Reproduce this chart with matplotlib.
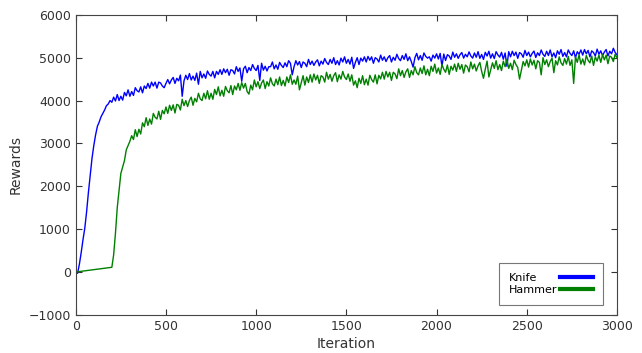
# rewards per iteration for the knife and hammer tasks
import numpy as np
from matplotlib import pyplot as plt

# Knife: one value every 10 iterations (band + dips)
knife_iter = list(range(0, 3001, 10))
knife_rewards = [
    0, -30, 180, 450, 750, 1020, 1400, 1850, 2250, 2650, 2950,
    3200, 3400, 3500, 3620, 3700, 3780, 3880, 3920, 4000, 3960,
    # 210-400
    4080, 3990, 4140, 4000, 4100, 4010, 4190, 4110, 4250, 4100,
    4210, 4120, 4300, 4230, 4200, 4320, 4180, 4340, 4280, 4400,
    # 410-600
    4290, 4430, 4340, 4430, 4290, 4430, 4410, 4340, 4300, 4400,
    4490, 4390, 4480, 4540, 4400, 4520, 4460, 4595, 4100, 4460,
    # 610-800
    4590, 4490, 4630, 4480, 4570, 4470, 4640, 4380, 4680, 4530,
    4620, 4520, 4690, 4610, 4570, 4680, 4530, 4680, 4610, 4720,
    # 810-1000
    4610, 4740, 4650, 4730, 4590, 4720, 4700, 4620, 4790, 4680,
    4760, 4450, 4740, 4800, 4650, 4770, 4700, 4840, 4750, 4700,
    # 1010-1200
    4820, 4470, 4870, 4710, 4800, 4690, 4790, 4790, 4900, 4740,
    4830, 4730, 4890, 4820, 4770, 4880, 4790, 4930, 4870, 4600,
    # 1210-1400
    4790, 4930, 4830, 4910, 4770, 4900, 4870, 4790, 4960, 4840,
    4920, 4820, 4900, 4950, 4810, 4920, 4850, 4980, 4890, 4840,
    # 1410-1600
    4960, 4870, 5000, 4840, 4930, 4830, 4990, 4900, 5020, 4870,
    4960, 4850, 5010, 4750, 4890, 5000, 4840, 4990, 4920, 5020,
    # 1610-1800
    4900, 5030, 4940, 5020, 4870, 5000, 4970, 4900, 5060, 4940,
    5020, 4910, 5000, 5050, 4900, 5010, 4940, 5080, 4980, 4930,
    # 1810-2000
    5050, 4960, 5090, 4930, 5020, 4910, 4780, 5000, 5100, 4950,
    5050, 4940, 5110, 5030, 4990, 5020, 4920, 5060, 4990, 5090,
    # 2010-2200
    4970, 5100, 4800, 5085, 4935, 5070, 5040, 4960, 5130, 5010,
    5090, 4985, 5070, 5120, 4990, 5080, 5020, 5135, 5040, 4990,
    # 2210-2400
    5110, 5010, 5140, 4985, 5075, 4960, 5125, 5040, 5150, 4990,
    5090, 4980, 5140, 5065, 5015, 5125, 4965, 5110, 4800, 5140,
    # 2410-2600
    5020, 5150, 5050, 5130, 4985, 5120, 5090, 5010, 5170, 5050,
    5130, 5020, 5100, 5155, 5005, 5115, 5050, 5180, 5080, 5030,
    # 2610-2800
    5150, 5050, 5180, 5020, 5110, 5000, 5160, 5080, 5190, 5030,
    5120, 5020, 5180, 5100, 5050, 5160, 5000, 5140, 5080, 5180,
    # 2810-3000
    5060, 5190, 5090, 5170, 5020, 5160, 5120, 5040, 5200, 5080,
    5160, 5050, 5130, 5190, 5040, 5150, 5090, 5220, 5120, 5070,
]

# Hammer: flat until ~200, then a fast jump
hammer_iter = [0, 200] + list(range(210, 3001, 10))
hammer_rewards = [
    0, 110,
    400, 900, 1500, 1900, 2300, 2450, 2600, 2850, 2950, 3050,
    # 310-500
    3180, 3090, 3320, 3160, 3330, 3220, 3480, 3390, 3600, 3420,
    3570, 3450, 3700, 3610, 3570, 3750, 3560, 3770, 3690, 3850,
    # 510-700
    3700, 3890, 3770, 3900, 3710, 3910, 3890, 3780, 4030, 3880,
    4000, 3860, 4000, 4080, 3890, 4050, 3970, 4170, 4040, 4000,
    # 710-900
    4170, 4040, 4230, 4030, 4170, 4030, 4260, 4140, 4320, 4110,
    4240, 4100, 4330, 4230, 4180, 4350, 4140, 4340, 4250, 4400,
    # 910-1100
    4240, 4420, 4290, 4400, 4210, 4150, 4360, 4250, 4480, 4320,
    4440, 4280, 4410, 4480, 4280, 4440, 4340, 4530, 4390, 4340,
    # 1110-1300
    4500, 4370, 4550, 4350, 4470, 4340, 4550, 4420, 4600, 4380,
    4480, 4380, 4570, 4250, 4410, 4580, 4360, 4550, 4420, 4600,
    # 1310-1500
    4430, 4620, 4480, 4590, 4400, 4580, 4550, 4430, 4660, 4500,
    4610, 4450, 4580, 4650, 4440, 4600, 4500, 4680, 4550, 4490,
    # 1510-1700
    4620, 4450, 4600, 4360, 4460, 4300, 4520, 4400, 4580, 4370,
    4500, 4360, 4590, 4490, 4430, 4600, 4390, 4590, 4505, 4660,
    # 1710-1900
    4500, 4680, 4550, 4660, 4470, 4660, 4620, 4510, 4740, 4580,
    4700, 4540, 4670, 4740, 4540, 4700, 4600, 4790, 4650, 4600,
    # 1910-2100
    4760, 4630, 4810, 4600, 4730, 4580, 4800, 4680, 4850, 4640,
    4760, 4610, 4840, 4730, 4660, 4830, 4610, 4800, 4710, 4850,
    # 2110-2300
    4680, 4870, 4730, 4840, 4640, 4830, 4790, 4670, 4900, 4740,
    4850, 4690, 4810, 4890, 4680, 4520, 4730, 4920, 4550, 4720,
    # 2310-2500
    4880, 4750, 4930, 4720, 4840, 4700, 4920, 4790, 4960, 4750,
    4870, 4720, 4940, 4840, 4770, 4500, 4710, 4910, 4810, 4950,
    # 2510-2700
    4780, 4970, 4830, 4940, 4740, 4930, 4890, 4600, 5000, 4840,
    4950, 4790, 4910, 4990, 4650, 4930, 4830, 5020, 4880, 4820,
    # 2710-2900
    4980, 4850, 5030, 4820, 4950, 4400, 5020, 4890, 5070, 4850,
    4970, 4830, 5050, 4940, 4880, 5040, 4820, 5020, 4920, 5060,
    # 2910-3000
    4890, 5070, 4950, 5060, 4860, 5040, 5010, 4910, 5080, 5000,
]

fig = plt.figure(figsize=(6.42, 3.53), dpi=100)
ax = fig.add_axes([0.118, 0.108, 0.843, 0.85])

ax.plot(knife_iter, knife_rewards, color='#0000ff', lw=1.0, label='Knife')
ax.plot(hammer_iter, hammer_rewards, color='#008000', lw=1.0, label='Hammer')

ax.set_xlim(0, 3000)
ax.set_ylim(-1000, 6000)
ax.set_xticks(np.arange(0, 3001, 500))
ax.set_yticks(np.arange(-1000, 6001, 1000))
ax.tick_params(direction='in', top=True, right=True, labelsize=9,
               colors='#333333', length=4)
for s in ax.spines.values():
    s.set_color('#444444')

ax.set_xlabel('Iteration', fontsize=10, color='#333333', labelpad=3)
ax.set_ylabel('Rewards', fontsize=10, color='#333333', labelpad=4)

leg = ax.legend(loc='lower right', bbox_to_anchor=(0.974, 0.033),
                borderaxespad=0, markerfirst=False, fontsize=8,
                fancybox=False, handlelength=3, borderpad=0.9,
                labelspacing=0.2, handletextpad=0.2)
leg.get_frame().set_edgecolor('#555555')
leg.get_frame().set_linewidth(0.8)
for line in leg.get_lines():
    line.set_linewidth(3)

# left-align the labels while keeping the handles lined up on the right
fig.canvas.draw()
renderer = fig.canvas.get_renderer()
widths = [t.get_window_extent(renderer).width for t in leg.get_texts()]
dpicor = renderer.points_to_pixels(1.0)
column = leg._legend_handle_box.get_children()[0]
column.align = 'left'
for row, w in zip(column.get_children(), widths):
    row.sep = row.sep + (max(widths) - w) / dpicor

plt.savefig('out.png', dpi=100)
